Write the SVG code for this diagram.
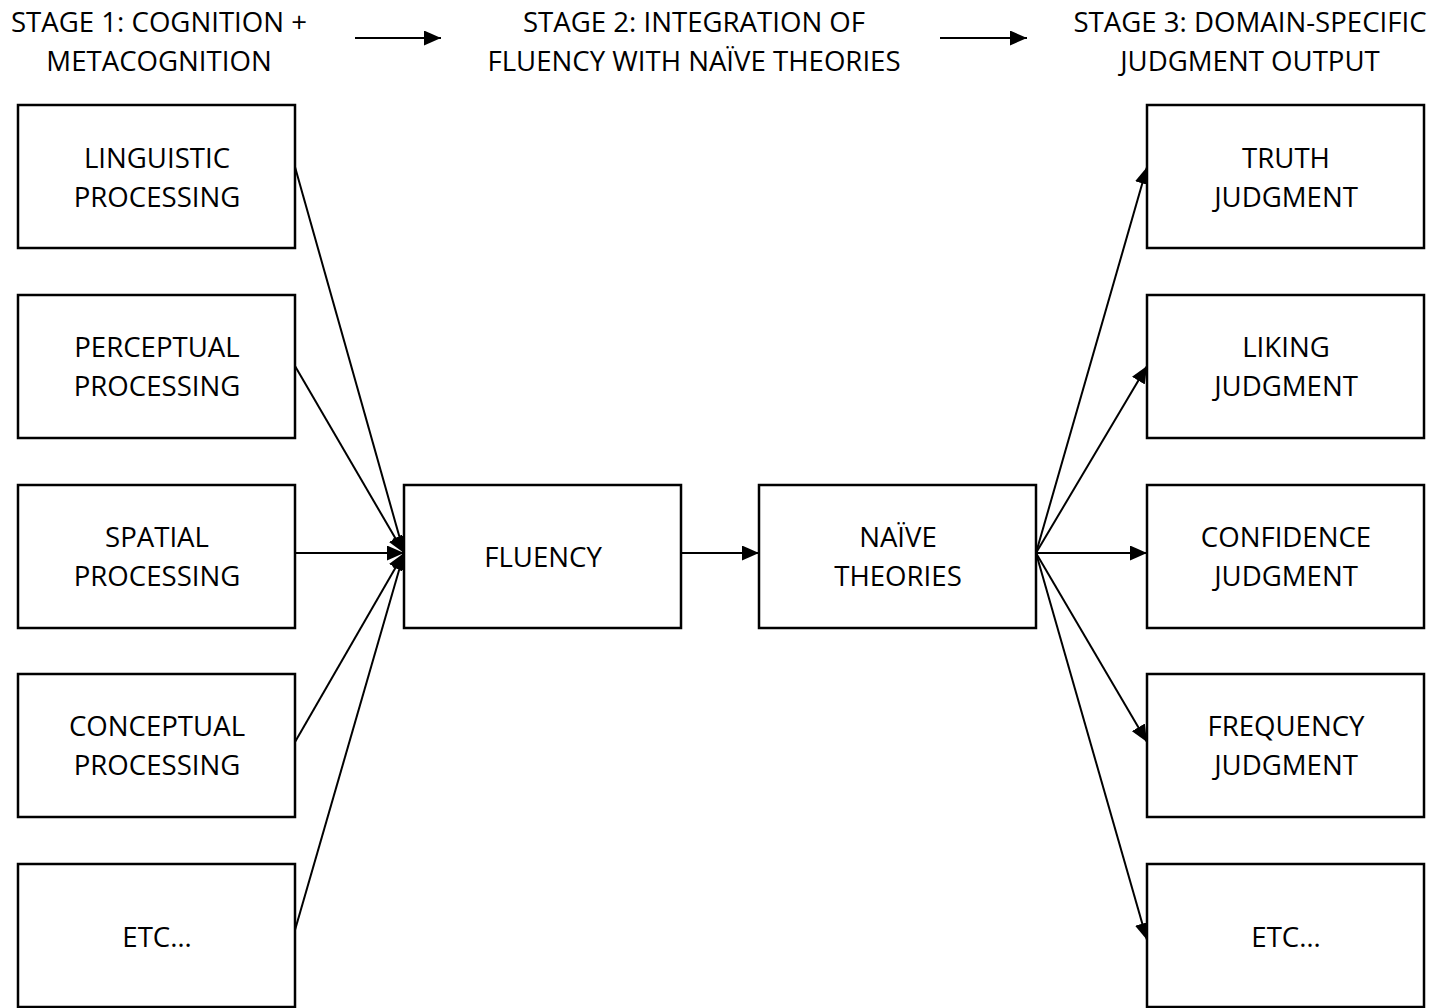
<svg xmlns="http://www.w3.org/2000/svg" width="1450" height="1008" viewBox="0 0 1450 1008">
<style>
.box{fill:#fff;stroke:#000;stroke-width:2.5}
text{font-family:"Open Sans","Noto Sans",sans-serif;font-size:27.6px;fill:#000;text-anchor:middle}
.c line{stroke:#000;stroke-width:2}
</style>
<defs>
<marker id="ah" viewBox="0 0 17 15" refX="17" refY="7.5" markerWidth="17" markerHeight="15" markerUnits="userSpaceOnUse" orient="auto">
<path d="M0,0 L17,7.5 L0,15 Z" fill="#000"/>
</marker>
</defs>
<rect width="1450" height="1008" fill="#fff"/>
<g id="headers">
<text x="159" y="32">STAGE 1: COGNITION +</text>
<text x="159" y="71">METACOGNITION</text>
<text x="694" y="32">STAGE 2: INTEGRATION OF</text>
<text x="694" y="71">FLUENCY WITH NAÏVE THEORIES</text>
<text x="1250" y="32">STAGE 3: DOMAIN-SPECIFIC</text>
<text x="1250" y="71">JUDGMENT OUTPUT</text>
</g>
<g class="c" id="connectors">
<line x1="355" y1="38" x2="441" y2="38" marker-end="url(#ah)"/>
<line x1="940" y1="38" x2="1027" y2="38" marker-end="url(#ah)"/>
<line x1="295" y1="167" x2="404" y2="553" marker-end="url(#ah)"/>
<line x1="295" y1="366" x2="404" y2="553" marker-end="url(#ah)"/>
<line x1="295" y1="553" x2="404" y2="553" marker-end="url(#ah)"/>
<line x1="295" y1="742" x2="404" y2="553" marker-end="url(#ah)"/>
<line x1="295" y1="930" x2="404" y2="553" marker-end="url(#ah)"/>
<line x1="681" y1="553" x2="759" y2="553" marker-end="url(#ah)"/>
<line x1="1036" y1="553" x2="1147" y2="167" marker-end="url(#ah)"/>
<line x1="1036" y1="553" x2="1147" y2="366" marker-end="url(#ah)"/>
<line x1="1036" y1="553" x2="1147" y2="553" marker-end="url(#ah)"/>
<line x1="1036" y1="553" x2="1147" y2="742" marker-end="url(#ah)"/>
<line x1="1036" y1="553" x2="1147" y2="940" marker-end="url(#ah)"/>
</g>
<g id="n-linguistic"><rect class="box" x="18" y="105" width="277" height="143"/><text x="157" y="168">LINGUISTIC</text><text x="157" y="207">PROCESSING</text></g>
<g id="n-perceptual"><rect class="box" x="18" y="295" width="277" height="143"/><text x="157" y="357">PERCEPTUAL</text><text x="157" y="396">PROCESSING</text></g>
<g id="n-spatial"><rect class="box" x="18" y="485" width="277" height="143"/><text x="157" y="547">SPATIAL</text><text x="157" y="586">PROCESSING</text></g>
<g id="n-conceptual"><rect class="box" x="18" y="674" width="277" height="143"/><text x="157" y="736">CONCEPTUAL</text><text x="157" y="775">PROCESSING</text></g>
<g id="n-etc-left"><rect class="box" x="18" y="864" width="277" height="143"/><text x="157" y="947">ETC…</text></g>
<g id="n-fluency"><rect class="box" x="404" y="485" width="277" height="143"/><text x="543" y="567">FLUENCY</text></g>
<g id="n-naive"><rect class="box" x="759" y="485" width="277" height="143"/><text x="898" y="547">NAÏVE</text><text x="898" y="586">THEORIES</text></g>
<g id="n-truth"><rect class="box" x="1147" y="105" width="277" height="143"/><text x="1286" y="168">TRUTH</text><text x="1286" y="207">JUDGMENT</text></g>
<g id="n-liking"><rect class="box" x="1147" y="295" width="277" height="143"/><text x="1286" y="357">LIKING</text><text x="1286" y="396">JUDGMENT</text></g>
<g id="n-confidence"><rect class="box" x="1147" y="485" width="277" height="143"/><text x="1286" y="547">CONFIDENCE</text><text x="1286" y="586">JUDGMENT</text></g>
<g id="n-frequency"><rect class="box" x="1147" y="674" width="277" height="143"/><text x="1286" y="736">FREQUENCY</text><text x="1286" y="775">JUDGMENT</text></g>
<g id="n-etc-right"><rect class="box" x="1147" y="864" width="277" height="143"/><text x="1286" y="947">ETC…</text></g>
</svg>
